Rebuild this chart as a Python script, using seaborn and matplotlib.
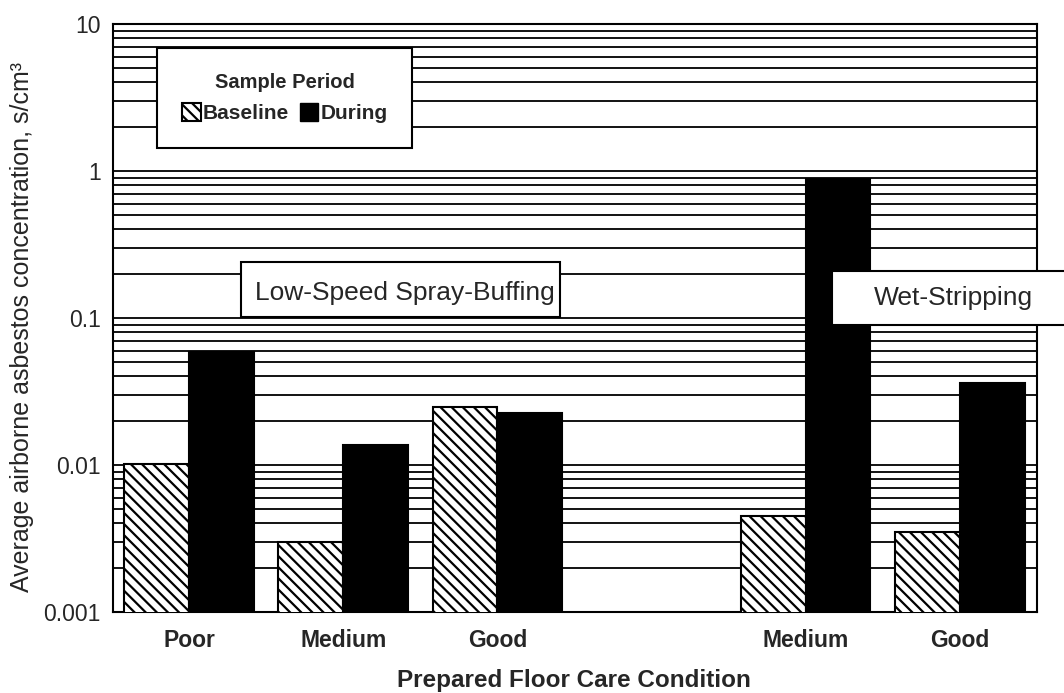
import matplotlib
matplotlib.use("Agg")
import matplotlib.pyplot as plt
from matplotlib.patches import Patch, Rectangle
from matplotlib.ticker import LogLocator, FixedFormatter, FixedLocator, NullFormatter
import seaborn as sns
import pandas as pd

# data
conditions = ["Poor", "Medium", "Good", "Medium", "Good"]
methods    = ["Low-Speed Spray-Buffing"] * 3 + ["Wet-Stripping"] * 2
baseline   = [0.0102, 0.0030, 0.0248, 0.0045, 0.0035]
during     = [0.059, 0.0137, 0.0226, 0.88, 0.036]
periods    = ["Baseline", "During"]
y_ticks    = [0.001, 0.01, 0.1, 1, 10]
y_labels   = ["0.001", "0.01", "0.1", "1", "10"]

HATCH = "\\" * 3

sns.set_style("white")
plt.rcParams["font.family"] = ["Liberation Sans", "DejaVu Sans"]
plt.rcParams["hatch.linewidth"] = 1.6
plt.rcParams["hatch.color"] = "black"

keys = [f"{m}: {c}" for m, c in zip(methods, conditions)]
order = keys[:3] + ["gap"] + keys[3:]
tick_names = conditions[:3] + [""] + conditions[3:]

df = pd.DataFrame({
    "key": keys * 2,
    "period": ["Baseline"] * len(keys) + ["During"] * len(keys),
    "value": baseline + during,
})

W, H = 1064, 693
fig = plt.figure(figsize=(W / 100, H / 100), dpi=100)
# axes frame in pixels: left 113, right 1037, top 24, bottom 612
ax = fig.add_axes([113 / W, 1 - 612 / H, (1037 - 113) / W, (612 - 24) / H])

def ax_xy(px, py):
    return (px - 113) / 924, (612 - py) / 588

sns.barplot(data=df, x="key", y="value", hue="period", order=order,
            hue_order=periods, palette={"Baseline": "white", "During": "black"},
            edgecolor="black", linewidth=1.5, width=0.84, gap=0,
            errorbar=None, legend=False, ax=ax, zorder=3)
for bar in ax.containers[0]:
    bar.set_hatch(HATCH)

ax.set_yscale("log")
ax.set_ylim(0.001, 10)
ax.set_xlim(-0.493, 5.50)
ax.yaxis.set_major_locator(FixedLocator(y_ticks))
ax.yaxis.set_major_formatter(FixedFormatter(y_labels))
ax.yaxis.set_minor_locator(LogLocator(base=10, subs=range(2, 10)))
ax.yaxis.set_minor_formatter(NullFormatter())
ax.grid(which="both", axis="y", color="black", linewidth=1.3)
ax.set_axisbelow(True)
ax.tick_params(axis="both", which="both", length=0)
ax.tick_params(axis="y", labelsize=16.5, pad=9)
ax.tick_params(axis="x", labelsize=16.5, pad=12)
ax.set_xticks(range(len(order)))
ax.set_xticklabels(tick_names, fontweight="bold")
for s in ax.spines.values():
    s.set_visible(True)
    s.set_color("black")
    s.set_linewidth(1.5)

ax.set_xlabel("Prepared Floor Care Condition", fontsize=17.5, fontweight="bold")
ax.xaxis.set_label_coords(*ax_xy(574, 680))
ax.xaxis.label.set_va("center")
ax.set_ylabel("Average airborne asbestos concentration, s/cm³", fontsize=18)
ax.yaxis.set_label_coords(*ax_xy(22, 327))
ax.yaxis.label.set_va("center")

# legend
handles = [Patch(facecolor="white", edgecolor="black", hatch=HATCH, linewidth=1.5, label="Baseline"),
           Patch(facecolor="black", edgecolor="black", label="During")]
leg = ax.legend(handles=handles, title="Sample Period", ncol=2, loc="upper left",
                bbox_to_anchor=ax_xy(157, 48), borderaxespad=0,
                fancybox=False, framealpha=1, edgecolor="black", fontsize=15,
                title_fontproperties={"weight": "bold", "size": 14.5},
                handlelength=0.9, handleheight=0.9, handletextpad=0.1,
                columnspacing=0.5, borderpad=1.2, labelspacing=0.55)
leg.get_frame().set_linewidth(1.5)
for t in leg.get_texts():
    t.set_fontweight("bold")
leg.set_zorder(6)

# method labels
ax.add_patch(Rectangle(ax_xy(241, 317), 319 / 924, 55 / 588,
                       transform=ax.transAxes, facecolor="white", edgecolor="black",
                       linewidth=1.5, zorder=5, clip_on=False))
ax.text(*ax_xy(405, 293), methods[0], transform=ax.transAxes,
        ha="center", va="center", fontsize=19, zorder=6)
ax.add_patch(Rectangle(ax_xy(832, 325), 0.3, 54 / 588,
                       transform=ax.transAxes, facecolor="white", edgecolor="black",
                       linewidth=1.5, zorder=5, clip_on=False))
ax.text(*ax_xy(953, 298), methods[3], transform=ax.transAxes,
        ha="center", va="center", fontsize=19, zorder=6)

fig.savefig("out.png", dpi=100)
